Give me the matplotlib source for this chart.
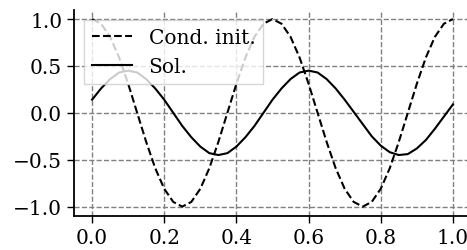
import matplotlib
matplotlib.use("Agg")
import matplotlib.pyplot as plt

# values, x step 0.025
x = [i * 0.025 for i in range(41)]

cond_init = [1.0, 0.95, 0.81, 0.59, 0.31, 0.0, -0.31, -0.59, -0.81, -0.95,
             -1.0, -0.95, -0.81, -0.59, -0.31, 0.0, 0.31, 0.59, 0.81, 0.95,
             1.0, 0.95, 0.81, 0.59, 0.31, 0.0, -0.31, -0.59, -0.81, -0.95,
             -1.0, -0.95, -0.81, -0.59, -0.31, 0.0, 0.31, 0.59, 0.81, 0.95,
             1.0]

sol = [0.14, 0.26, 0.36, 0.43, 0.45, 0.43, 0.36, 0.26, 0.14, 0.0,
       -0.14, -0.26, -0.36, -0.43, -0.45, -0.43, -0.36, -0.26, -0.14, 0.0,
       0.14, 0.26, 0.36, 0.43, 0.45, 0.43, 0.36, 0.26, 0.14, 0.01,
       -0.12, -0.25, -0.35, -0.42, -0.45, -0.44, -0.38, -0.29, -0.17, -0.04,
       0.09]

xticks = [0.0, 0.2, 0.4, 0.6, 0.8, 1.0]
yticks = [-1.0, -0.5, 0.0, 0.5, 1.0]

plt.rcParams["font.family"] = "DejaVu Serif"
plt.rcParams["font.size"] = 14.5

fig = plt.figure(figsize=(4.67, 2.51), dpi=100)
ax = fig.add_axes([0.1585, 0.1355, 0.85, 0.822])

ax.plot(x, cond_init, "k--", lw=1.5, label="Cond. init.")
ax.plot(x, sol, "k-", lw=1.5, label="Sol.")

ax.set_xlim(-0.05, 1.05)
ax.set_ylim(-1.1, 1.1)
ax.set_xticks(xticks)
ax.set_yticks(yticks)
ax.grid(True, ls="--", color="gray", lw=1)
ax.spines["top"].set_visible(False)
ax.spines["right"].set_visible(False)
ax.spines["left"].set_linewidth(1.3)
ax.spines["bottom"].set_linewidth(1.3)
ax.tick_params(length=5, width=1)

ax.legend(loc="upper left", fancybox=False, framealpha=0.8)

fig.savefig("out.png", dpi=100)
